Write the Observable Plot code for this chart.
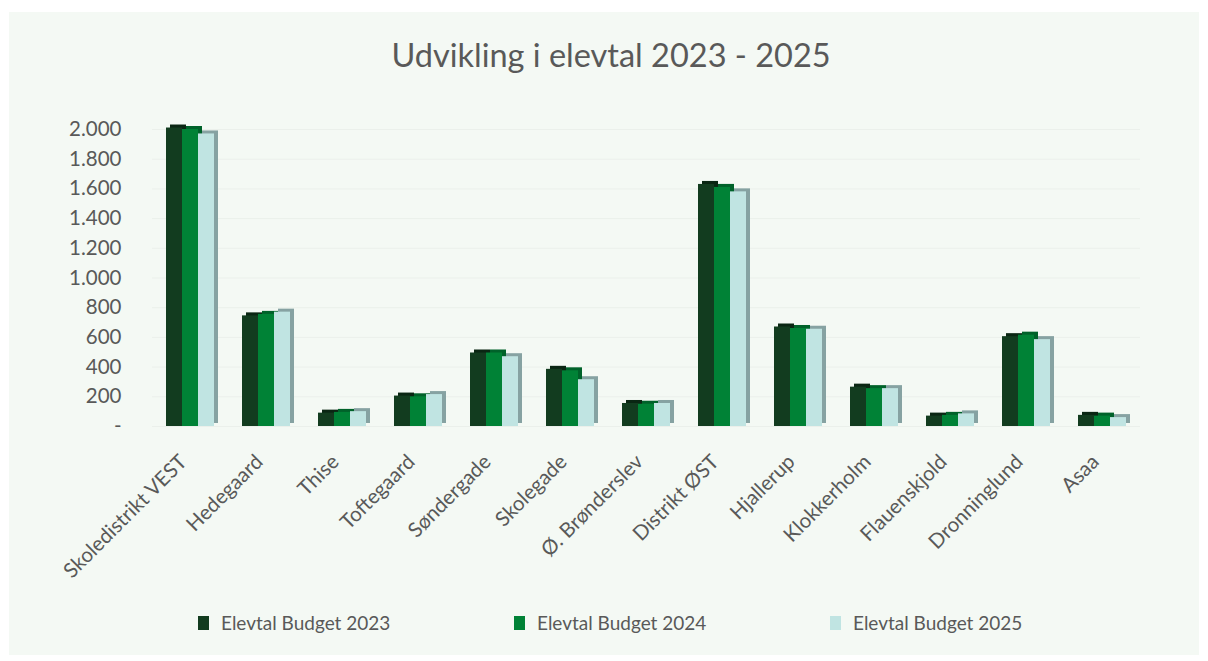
<!DOCTYPE html>
<html>
<head>
<meta charset="utf-8">
<script src="https://cdn.jsdelivr.net/npm/d3@7"></script>
<script src="https://cdn.jsdelivr.net/npm/@observablehq/plot@0.6"></script>
<style>
  html, body { margin: 0; padding: 0; background: #ffffff; }
  #wrap { position: relative; width: 1208px; height: 661px; overflow: hidden; font-family: Lato, "Open Sans", sans-serif; }
  #bg { position: absolute; left: 9px; top: 12px; width: 1190px; height: 643px; background: #f4f9f4; }
  #title { position: absolute; left: 0; top: 35px; width: 1222px; text-align: center; font-size: 32.5px; line-height: 1.2; color: #595959; }
  #chart { position: absolute; left: 0; top: 0; }
  #legend { position: absolute; left: 198px; top: 611px; display: flex; font-size: 19px; color: #595959; }
  .item { width: 316px; display: flex; align-items: center; }
  .sw { width: 11px; height: 14px; margin-right: 12px; }
</style>
</head>
<body>
<div id="wrap">
  <div id="bg"></div>
  <div id="title">Udvikling i elevtal 2023 - 2025</div>
  <div id="chart"></div>
  <div id="legend"></div>
</div>
<script>
const schools = ["Skoledistrikt VEST", "Hedegaard", "Thise", "Toftegaard", "Søndergade", "Skolegade", "Ø. Brønderslev", "Distrikt ØST", "Hjallerup", "Klokkerholm", "Flauenskjold", "Dronninglund", "Asaa"];
const seriesNames = ["Elevtal Budget 2023", "Elevtal Budget 2024", "Elevtal Budget 2025"];
const v2023 = [2010, 745, 90, 205, 495, 385, 155, 1630, 670, 265, 70, 605, 75];
const v2024 = [2000, 755, 95, 200, 495, 375, 150, 1610, 660, 255, 75, 615, 70];
const v2025 = [1970, 770, 100, 215, 470, 315, 155, 1580, 655, 255, 85, 585, 60];
const yTicks = [0, 200, 400, 600, 800, 1000, 1200, 1400, 1600, 1800, 2000];
const frontColors = ["#123c1f", "#008236", "#c0e4e2"];
const sideColors = ["#0a2613", "#00622a", "#86a2a2"];

const values = [v2023, v2024, v2025];
const data = [];
seriesNames.forEach((s, i) => schools.forEach((school, j) => data.push({school, series: s, value: values[i][j]})));

const fmt = d => d === 0 ? "-" : d3.format(",")(d).replace(/,/g, ".");

const marks = [
  Plot.gridY(yTicks, {stroke: "#ebf0eb", strokeOpacity: 1}),
  Plot.axisY({ticks: yTicks, tickFormat: fmt, tickSize: 0, tickPadding: 31, fontSize: 20.5}),
  Plot.axisFx({anchor: "bottom", tickRotate: -45, tickSize: 0, tickPadding: 22, fontSize: 20.5, label: null, dx: -7, dy: 10})
];
seriesNames.forEach((s, i) => {
  const d = data.filter(r => r.series === s);
  marks.push(Plot.barY(d, {fx: "school", x: "series", y: "value", fill: sideColors[i], dx: 4, dy: -3}));
  marks.push(Plot.barY(d, {fx: "school", x: "series", y: "value", fill: frontColors[i]}));
});

const plot = Plot.plot({
  width: 1208,
  height: 600,
  marginLeft: 149,
  marginRight: 65,
  marginTop: 129,
  marginBottom: 174,
  style: {background: "transparent", color: "#595959", fontFamily: "Lato, 'Open Sans', sans-serif"},
  fx: {domain: schools, padding: 0, label: null, axis: null},
  x: {domain: seriesNames, paddingInner: 0, paddingOuter: 0.75, axis: null},
  y: {domain: [0, 2000], axis: null, label: null},
  marks
});
document.getElementById("chart").appendChild(plot);

const legend = document.getElementById("legend");
seriesNames.forEach((s, i) => {
  const it = document.createElement("div");
  it.className = "item";
  const sw = document.createElement("span");
  sw.className = "sw";
  sw.style.background = frontColors[i];
  const t = document.createElement("span");
  t.textContent = s;
  it.appendChild(sw); it.appendChild(t);
  legend.appendChild(it);
});
</script>
</body>
</html>
